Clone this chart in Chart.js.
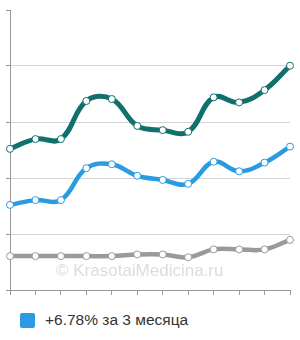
<!DOCTYPE html>
<html>
<head>
<meta charset="utf-8">
<script src="https://cdn.jsdelivr.net/npm/chart.js@4"></script>
<style>
  html, body { margin: 0; padding: 0; background: #fff; }
  #wrap { position: relative; width: 300px; height: 300px; }
  #watermark {
    position: absolute; left: 56px; top: 261px;
    font: 17px "Liberation Sans", Arial, sans-serif; color: #dcdcdc;
    pointer-events: none; white-space: nowrap;
  }
  #legend {
    display: flex; align-items: center; margin: 11px 0 0 20px;
    font: 15.5px "Liberation Sans", Arial, sans-serif; color: #333;
  }
  #legend span.box {
    width: 15px; height: 15px; border-radius: 2px; background: #2a9be0;
    margin-right: 10px; display: inline-block;
  }
</style>
</head>
<body>
<div id="wrap">
  <canvas id="chart" width="300" height="300"></canvas>
  <div id="watermark">© KrasotaiMedicina.ru</div>
</div>
<div id="legend"><span class="box"></span>+6.78% за 3 месяца</div>
<script>
const labels = ["1", "2", "3", "4", "5", "6", "7", "8", "9", "10", "11", "12"];
const tealValues = [50.4, 53.9, 53.9, 67.5, 68.2, 58.6, 57.1, 56.5, 68.8, 67.0, 71.4, 80.1];
const blueValues = [30.4, 32.1, 32.1, 43.5, 44.9, 40.8, 39.3, 37.9, 45.8, 42.4, 45.5, 51.2];
const grayValues = [12.1, 12.1, 12.1, 12.1, 12.1, 12.7, 12.7, 11.7, 14.5, 14.5, 14.5, 17.9];

function lineSet(data, color, width) {
  return {
    data: data,
    borderColor: color,
    borderWidth: width,
    tension: 0.4,
    pointRadius: 3.5,
    pointBackgroundColor: "#fff",
    pointBorderColor: color,
    pointBorderWidth: 1,
    fill: false,
  };
}

new Chart(document.getElementById("chart"), {
  type: "line",
  data: {
    labels: labels,
    datasets: [
      lineSet(tealValues, "#11706c", 5),
      lineSet(blueValues, "#2a9be0", 4.5),
      lineSet(grayValues, "#9a9a9a", 4.5),
    ],
  },
  options: {
    responsive: false,
    animation: false,
    layout: { padding: { left: 6, top: 10, right: 10, bottom: 5 } },
    plugins: {
      legend: { display: false },
      tooltip: { enabled: false },
    },
    scales: {
      x: {
        offset: false,
        ticks: { display: false },
        grid: { drawOnChartArea: false, tickLength: 5, color: "#999" },
        border: { color: "#999" },
      },
      y: {
        min: 0,
        max: 100,
        ticks: { display: false, stepSize: 20 },
        grid: {
          tickLength: 4,
          color: (ctx) => (ctx.tick && ctx.tick.value === 100 ? "rgba(0,0,0,0)" : "#d4d4d4"),
          tickColor: "#999",
        },
        border: { color: "#999" },
      },
    },
  },
});
</script>
</body>
</html>
